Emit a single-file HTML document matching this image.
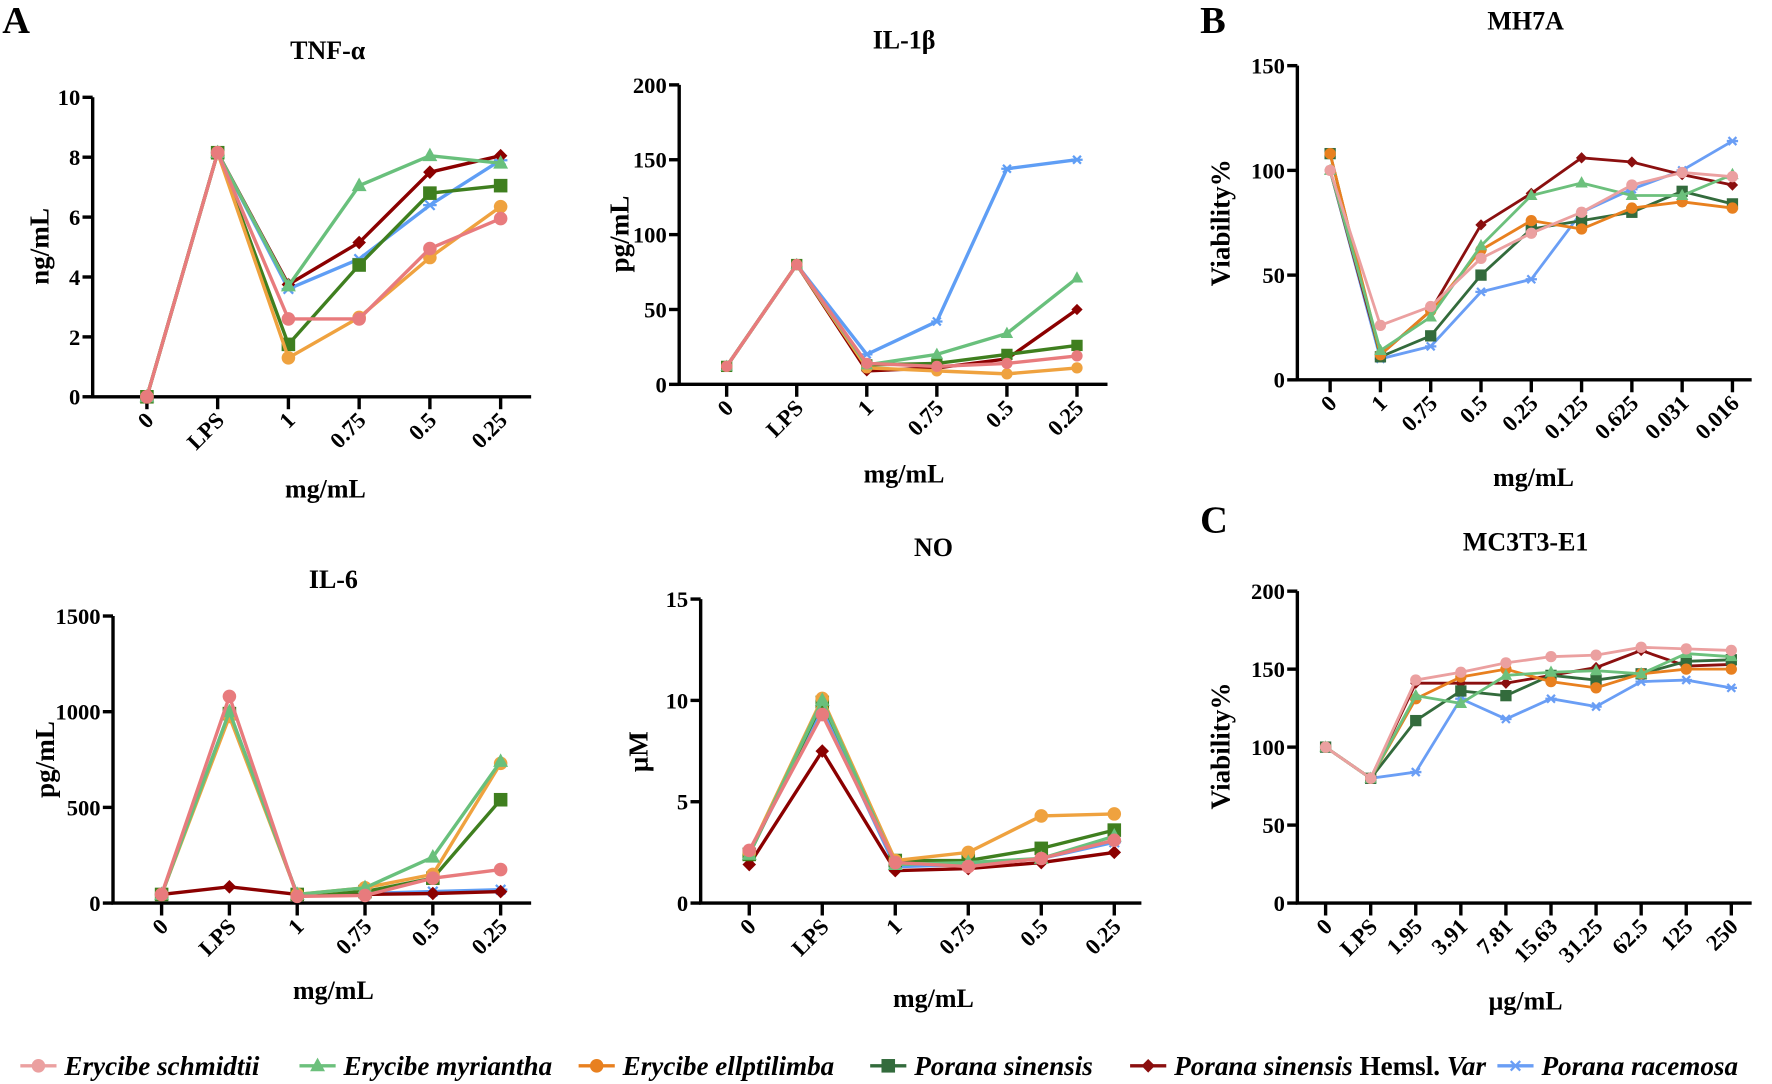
<!DOCTYPE html>
<html><head><meta charset="utf-8"><style>
html,body{margin:0;padding:0;background:#fff}
svg{display:block}
text{font-family:"Liberation Serif",serif;font-weight:bold;fill:#000}
</style></head><body>
<svg id="fig" width="1772" height="1084" viewBox="0 0 1568 959" xmlns="http://www.w3.org/2000/svg"></svg>
<script>
const seriesNames=["Erycibe schmidtii","Erycibe myriantha","Erycibe ellptilimba","Porana sinensis","Porana sinensis Hemsl. Var","Porana racemosa"];
const markers=["circle","triangle","circle","square","diamond","star"];
const colorsA=["#e87b7d","#69c07c","#efa23f","#3f7f1f","#8b0000","#5f9ef5"];
const colorsB=["#eba0a0","#6cc07c","#e8801f","#336b3c","#8b0f0f","#6a9ef5"];
const catsA=["0","LPS","1","0.75","0.5","0.25"];
const catsMH=["0","1","0.75","0.5","0.25","0.125","0.625","0.031","0.016"];
const catsMC=["0","LPS","1.95","3.91","7.81","15.63","31.25","62.5","125","250"];
const tnfVals=[[0,8.15,2.6,2.6,4.95,5.95],[0,8.15,3.7,7.05,8.05,7.8],[0,8.15,1.3,2.65,4.65,6.35],[0,8.15,1.75,4.4,6.8,7.05],[0,8.15,3.75,5.15,7.5,8.05],[0,8.15,3.6,4.6,6.4,7.9]];
const il1Vals=[[12,80,14,12,14,19],[12,80,13,20,34,71],[12,80,11,9,7,11],[12,80,13,14,20,26],[12,80,9,11,17,50],[12,80,20,42,144,150]];
const il6Vals=[[45,1080,35,40,130,175],[45,1000,45,80,240,740],[45,975,45,80,150,730],[45,990,45,60,130,540],[45,85,45,45,50,60],[45,1000,45,50,60,70]];
const noVals=[[2.6,9.3,2.0,1.8,2.2,3.1],[2.4,10,1.9,2.0,2.2,3.3],[2.5,10.1,2.1,2.5,4.3,4.4],[2.4,9.9,2.1,2.1,2.7,3.6],[1.9,7.5,1.6,1.7,2.0,2.5],[2.5,9.5,1.8,1.9,2.2,3.0]];
const mhVals=[[100,26,35,58,70,80,93,99,97],[100,14,30,64,88,94,88,88,98],[108,12,33,62,76,72,82,85,82],[108,11,21,50,72,76,80,90,84],[100,12,33,74,89,106,104,98,93],[100,10,16,42,48,80,91,100,114]];
const mcVals=[[100,80,143,148,154,158,159,164,163,162],[100,80,133,128,146,148,149,147,160,158],[100,80,131,145,150,142,138,147,150,150],[100,80,117,136,133,146,143,147,155,156],[100,80,141,141,141,146,151,162,152,153],[100,80,84,131,118,131,126,142,143,138]];
const tnfTicks=[0,2,4,6,8,10], il1Ticks=[0,50,100,150,200], il6Ticks=[0,500,1000,1500], noTicks=[0,5,10,15], mhTicks=[0,50,100,150], mcTicks=[0,50,100,150,200];

const NS="http://www.w3.org/2000/svg";
const svg=document.getElementById('fig');
function el(tag,attrs,parent){const e=document.createElementNS(NS,tag);for(const k in attrs)e.setAttribute(k,attrs[k]);(parent||svg).appendChild(e);return e;}
function txt(s,attrs,parent){const t=el('text',attrs,parent);t.textContent=s;return t;}
function marker(g,type,x,y,c,r){
  let m;
  if(type==='circle')m=el('circle',{cx:x,cy:y,r:r,fill:c},g);
  else if(type==='square')m=el('rect',{x:x-r,y:y-r,width:2*r,height:2*r,fill:c},g);
  else if(type==='triangle')m=el('polygon',{points:`${x},${y-r*1.2} ${x+r*1.1},${y+r*0.8} ${x-r*1.1},${y+r*0.8}`,fill:c},g);
  else if(type==='diamond')m=el('polygon',{points:`${x},${y-r} ${x+r},${y} ${x},${y+r} ${x-r},${y}`,fill:c},g);
  else {m=el('path',{d:`M${x-r} ${y}H${x+r}M${x-r*0.7} ${y-r*0.7}L${x+r*0.7} ${y+r*0.7}M${x-r*0.7} ${y+r*0.7}L${x+r*0.7} ${y-r*0.7}`,stroke:c,'stroke-width':2},g);}
  
  
}
function panel(cfg){
  const g=el('g',{});
  
  
  const ymax=cfg.ticks[cfg.ticks.length-1];
  const Y=v=>cfg.y0-(v/ymax)*(cfg.y0-cfg.yTop);
  const n=cfg.cats.length;
  const X=i=>cfg.xFirst+i*(cfg.xLast-cfg.xFirst)/(n-1);
  const ax=el('path',{d:`M${cfg.ax} ${cfg.yTop}V${cfg.y0}H${cfg.xEnd}`,stroke:'#000','stroke-width':3,fill:'none'},g);
  
  
  cfg.ticks.forEach(t=>{
    el('line',{x1:cfg.ax-9,x2:cfg.ax,y1:Y(t),y2:Y(t),stroke:'#000','stroke-width':3},g);
    const l=txt(String(t),{x:cfg.ax-11,y:Y(t)+7,'text-anchor':'end','font-size':20},g);
    
    
  });
  cfg.cats.forEach((c,i)=>{
    el('line',{x1:X(i),x2:X(i),y1:cfg.y0,y2:cfg.y0+11,stroke:'#000','stroke-width':3},g);
    const l=txt(c,{x:0,y:0,'text-anchor':'end','font-size':20,transform:`translate(${X(i)+7},${cfg.y0+22}) rotate(-45)`},g);
    
    
  });
  const order=[5,4,3,2,1,0];
  order.forEach(s=>{
    const vals=cfg.vals[s];const c=cfg.colors[s];
    const p=el('polyline',{points:vals.map((v,i)=>X(i)+','+Y(v)).join(' '),fill:'none',stroke:c,'stroke-width':cfg.lw},g);
    
    
    vals.forEach((v,i)=>marker(g,markers[s],X(i),Y(v),c,cfg.r));
  });
  const t=txt(cfg.title,{x:cfg.tx,y:cfg.ty,'text-anchor':'middle','font-size':23},g);
  
  
  const xt=txt(cfg.xlab,{x:cfg.xlx,y:cfg.xly,'text-anchor':'middle','font-size':23},g);
  
  
  const yt=txt(cfg.ylab,{x:0,y:0,'text-anchor':'middle','font-size':24,transform:`translate(${cfg.ylx},${cfg.yly}) rotate(-90)`},g);
  
  
}
panel({name:'tnf-panel',title:'TNF-α',tx:290,ty:52,xlab:'mg/mL',xlx:288,xly:440,ylab:'ng/mL',ylx:43,yly:218,ax:82,y0:351,yTop:86,xEnd:470,xFirst:130,xLast:443,cats:catsA,vals:tnfVals,ticks:tnfTicks,colors:colorsA,lw:3,r:6});
panel({name:'il1b-panel',title:'IL-1β',tx:800,ty:43,xlab:'mg/mL',xlx:800,xly:427,ylab:'pg/mL',ylx:556,yly:207,ax:601,y0:340,yTop:75,xEnd:980,xFirst:643,xLast:953,cats:catsA,vals:il1Vals,ticks:il1Ticks,colors:colorsA,lw:3,r:5});
panel({name:'il6-panel',title:'IL-6',tx:295,ty:520,xlab:'mg/mL',xlx:295,xly:884,ylab:'pg/mL',ylx:48,yly:672,ax:100,y0:799,yTop:545,xEnd:470,xFirst:143,xLast:443,cats:catsA,vals:il6Vals,ticks:il6Ticks,colors:colorsA,lw:3,r:6});
panel({name:'no-panel',title:'NO',tx:826,ty:492,xlab:'mg/mL',xlx:826,xly:891,ylab:'μM',ylx:573,yly:665,ax:620,y0:799,yTop:530,xEnd:1010,xFirst:663,xLast:986,cats:catsA,vals:noVals,ticks:noTicks,colors:colorsA,lw:3,r:6});
panel({name:'mh7a-panel',title:'MH7A',tx:1350,ty:26,xlab:'mg/mL',xlx:1357,xly:430,ylab:'Viability%',ylx:1088,yly:197,ax:1148,y0:336,yTop:58,xEnd:1550,xFirst:1177,xLast:1533,cats:catsMH,vals:mhVals,ticks:mhTicks,colors:colorsB,lw:2.5,r:5});
panel({name:'mc3t3-panel',title:'MC3T3-E1',tx:1350,ty:487,xlab:'μg/mL',xlx:1350,xly:893,ylab:'Viability%',ylx:1088,yly:660,ax:1148,y0:799,yTop:523,xEnd:1550,xFirst:1173,xLast:1532,cats:catsMC,vals:mcVals,ticks:mcTicks,colors:colorsB,lw:2.5,r:5});
[['A',15,29],['B',1075,29],['C',1075,471]].forEach(([s,x,y])=>{
  const t=txt(s,{x:x-13,y:y,'font-size':34});
  
  
});
const legX=[18,265,512,770,1000,1325];
const lg=el('g',{});


seriesNames.forEach((nm,i)=>{
  const g=el('g',{},lg);
  
  
  el('line',{x1:legX[i],x2:legX[i]+32,y1:943,y2:943,stroke:colorsB[i],'stroke-width':3},g);
  marker(g,markers[i],legX[i]+16,943,colorsB[i],6);
  const t=txt('',{x:legX[i]+39,y:951,'font-size':24,'font-style':'italic'},g);
  if(nm.indexOf('Hemsl.')>=0){
    const a=el('tspan',{},t);a.textContent='Porana sinensis ';
    const b=el('tspan',{'font-style':'normal'},t);b.textContent='Hemsl.';
    const c=el('tspan',{},t);c.textContent=' Var';
  } else t.textContent=nm;
});
</script>
</body></html>
